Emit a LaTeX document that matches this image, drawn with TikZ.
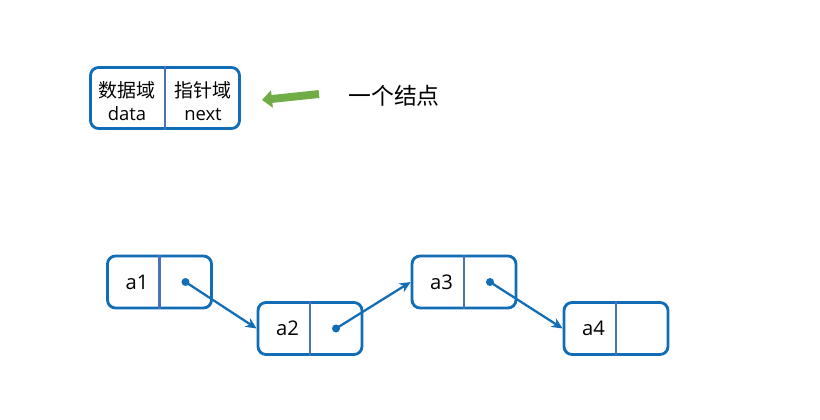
\documentclass[tikz,border=0pt]{standalone}
\usepackage{fontspec}
\setmainfont{Open Sans}
\newfontfamily\cjk{Noto Sans CJK SC}
\usetikzlibrary{arrows.meta}

\definecolor{boxblue}{HTML}{116DB6}
\definecolor{splitblue}{HTML}{4A70B5}
\definecolor{arrowgreen}{HTML}{70AD47}

\tikzset{
        cell/.style = {draw=boxblue, line width=1.6pt, rounded corners=0.16cm,
            minimum width=2.08cm, minimum height=1.04cm, inner sep=0pt},
        split/.style = {draw=splitblue, line width=1.2pt},
        field/.style = {align=center, inner sep=0pt, font=\fontsize{10.5}{13}\selectfont},
        value/.style = {inner sep=0pt, font=\fontsize{11.5}{13}\selectfont},
        link/.style = {draw=boxblue, line width=1.3pt, -{Stealth[length=0.22cm, width=0.2cm]}},
        dot/.style = {fill=boxblue}
    }

\begin{document}
\begin{tikzpicture}[x=0.02cm, y=-0.02cm]
            \useasboundingbox (0,0) rectangle (820,419);

            % one node, explained
            \node[cell, minimum width=2.98cm, minimum height=1.22cm] (node) at (165,98) {};
            \draw[split] (node.north) -- (node.south);
            \node[field] (data) at ([xshift=-0.76cm, yshift=-0.07cm]node.center) {{\cjk\fontsize{10.8}{13}\selectfont 数据域}\\data};
            \node[field] (next) at ([xshift=0.76cm, yshift=-0.07cm]node.center) {{\cjk\fontsize{10.8}{13}\selectfont 指针域}\\next};

            \node[inner sep=0pt, font=\cjk\fontsize{13}{15}\selectfont] (caption) at (394,96) {一个结点};
            \coordinate (tail) at (319,94);
            \coordinate (head) at (262,100);
            \draw[arrowgreen, line width=4.5pt, -{Triangle[length=0.2cm, width=0.34cm]}]
                (tail) -- (head);

            % the list
            \foreach \n/\x/\y in {a1/159.5/282,a2/310/328.5,a3/464/282,a4/616/328.5} {
                \node[cell] (\n) at (\x,\y) {};
                \draw[split] (\n.north) -- (\n.south);
                \node[value] (\n-data) at ([xshift=-0.45cm]\n.center) {\n};
                \coordinate (\n-next) at ([xshift=0.52cm]\n.center);
            };

            \foreach \a/\b in {a1/a2,a2/a3,a3/a4} {
                \fill[dot] (\a-next) circle (0.08cm);
                \draw[link] (\a-next) -- (\b.west);
            };

        \end{tikzpicture}
\end{document}
